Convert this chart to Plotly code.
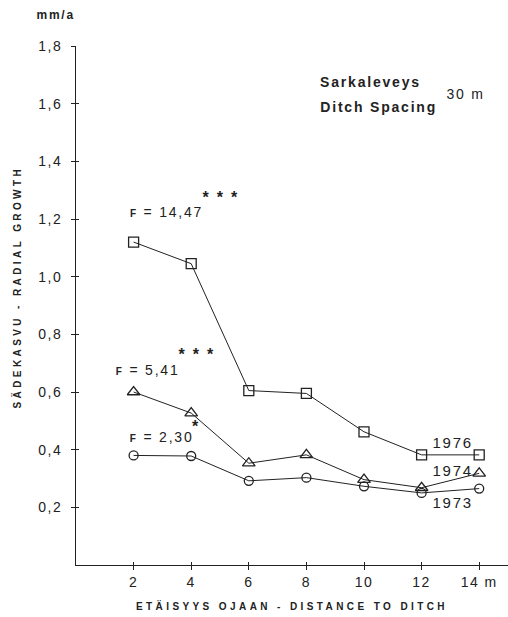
import plotly.graph_objects as go

# Distance to ditch (m) and mean radial growth (mm/a) per year
distance = [2, 4, 6, 8, 10, 12, 14]
growth_1976 = [1.12, 1.045, 0.605, 0.595, 0.462, 0.382, 0.382]
growth_1974 = [0.60, 0.527, 0.353, 0.382, 0.296, 0.268, 0.318]
growth_1973 = [0.38, 0.378, 0.292, 0.303, 0.273, 0.250, 0.265]

x_ticks = [2, 4, 6, 8, 10, 12, 14]
x_tick_text = ["2", "4", "6", "8", "10", "12", "14 m"]
y_ticks = [0.2, 0.4, 0.6, 0.8, 1.0, 1.2, 1.4, 1.6, 1.8]

INK = "#222222"
FONT = "Liberation Sans, Arial, sans-serif"

fig = go.Figure()

series = [
    ("1976", growth_1976, "square-open", 10),
    ("1974", growth_1974, "triangle-up-open", 11),
    ("1973", growth_1973, "circle-open", 9),
]
for name, vals, sym, size in series:
    fig.add_trace(go.Scatter(
        x=distance, y=vals, name=name, mode="lines+markers",
        line=dict(color=INK, width=1),
        marker=dict(symbol=sym, size=size, color=INK, line=dict(width=1.3, color=INK)),
        showlegend=False, cliponaxis=False,
    ))

# transparent trace on the overlay axes that carry the inner half of each tick
fig.add_trace(go.Scatter(x=[1], y=[1], xaxis="x2", yaxis="y2", mode="markers",
                         marker=dict(opacity=0), showlegend=False, hoverinfo="skip"))

axis_common = dict(showgrid=False, zeroline=False, linecolor=INK, linewidth=1,
                   tickcolor=INK, ticklen=4, tickwidth=1)

fig.update_layout(
    width=508, height=617,
    margin=dict(l=76, r=0, t=46, b=52),
    paper_bgcolor="white", plot_bgcolor="white",
    separators=",.",
    font=dict(family=FONT, color=INK, size=13),
    xaxis=dict(range=[0, 15], tickmode="array", tickvals=x_ticks, ticktext=x_tick_text,
               ticks="outside", showline=True,
               tickfont=dict(size=14, color=INK),
               title=dict(text="ETÄISYYS OJAAN - DISTANCE TO DITCH",
                          font=dict(size=10, family=FONT, weight="bold", color=INK),
                          standoff=14),
               **axis_common),
    yaxis=dict(range=[0, 1.8], tickmode="array", tickvals=y_ticks, tickformat=".1f",
               ticks="outside", showline=True, ticklabelstandoff=6,
               tickfont=dict(size=14, color=INK),
               **axis_common),
    xaxis2=dict(range=[0, 15], overlaying="x", anchor="y2", side="bottom",
                tickmode="array", tickvals=x_ticks, ticks="inside",
                showticklabels=False, showline=False, showgrid=False, zeroline=False,
                tickcolor=INK, ticklen=3),
    yaxis2=dict(range=[0, 1.8], overlaying="y", anchor="x2", side="left",
                tickmode="array", tickvals=y_ticks, ticks="inside",
                showticklabels=False, showline=False, showgrid=False, zeroline=False,
                tickcolor=INK, ticklen=3),
)

def label(text, x, y, size=13, bold=False, xref="x", yref="y", angle=0):
    fig.add_annotation(text=text, x=x, y=y, xref=xref, yref=yref, showarrow=False,
                       xanchor="center", yanchor="middle", textangle=angle,
                       font=dict(size=size, family=FONT, color=INK,
                                 weight="bold" if bold else "normal"))

# value-axis title and unit (paper coords relative to the plot area)
label("SÄDEKASVU - RADIAL GROWTH", (17 - 76) / 432, (565 - 287) / 519, size=10,
      bold=True, xref="paper", yref="paper", angle=-90)
label("mm/a", (55.5 - 76) / 432, (565 - 15) / 519, size=12, bold=True,
      xref="paper", yref="paper")
label("Sarkaleveys", 10.24, 1.674, size=14, bold=True)
label("Ditch Spacing", 10.52, 1.590, size=14, bold=True)
label("30 m", 13.54, 1.635, size=14)
label("<span style='font-size:10px'><b>F</b></span> = 14,47", 3.15, 1.223, size=14)
label("<b>* * *</b>", 5.04, 1.275, size=16)
label("<span style='font-size:10px'><b>F</b></span> = 5,41", 2.51, 0.676, size=14)
label("<b>* * *</b>", 4.19, 0.731, size=16)
label("<span style='font-size:10px'><b>F</b></span> = 2,30", 2.99, 0.444, size=14)
label("<b>*</b>", 4.18, 0.481, size=16)
label("1976", 13.07, 0.426, size=15)
label("1974", 13.09, 0.329, size=15)
label("1973", 13.09, 0.218, size=15)

# widen the letter spacing of titles, tick labels and notes
post = """
var gd = document.getElementById('{plot_id}');
function sp(sel, v) {
  gd.querySelectorAll(sel).forEach(function (t) { t.style.letterSpacing = v; });
}
sp('.xtitle', '3.4px');
sp('.xtick text', '1.5px');
sp('.ytick text', '1.5px');
gd.querySelectorAll('.annotation-text').forEach(function (t) {
  t.style.letterSpacing = t.textContent.indexOf('RADIAL') >= 0 ? '3.4px' : '1.8px';
});
"""

fig.write_html("out.html", post_script=post)
